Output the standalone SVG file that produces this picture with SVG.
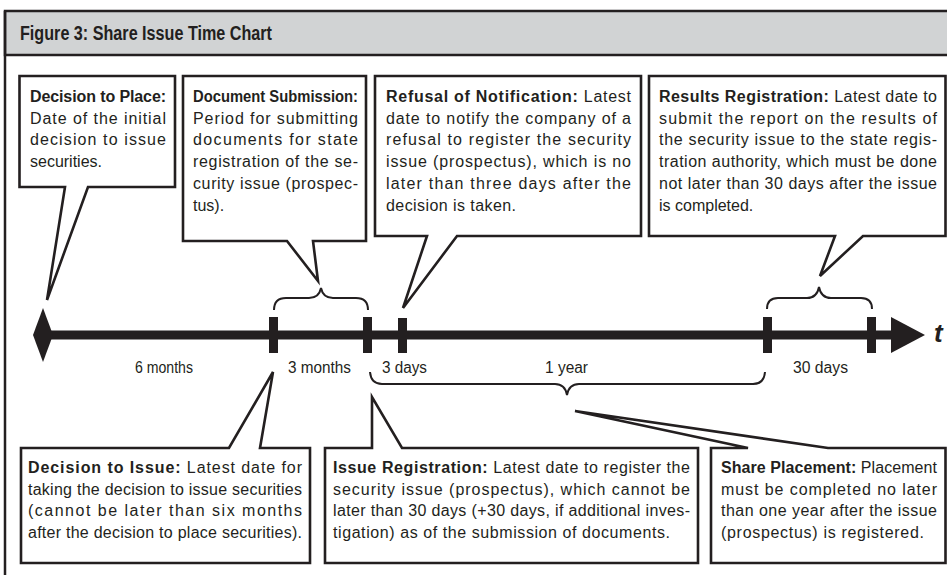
<svg xmlns="http://www.w3.org/2000/svg" width="947" height="575" viewBox="0 0 947 575">
<style>
.box{fill:#fff;stroke:#231f20;stroke-width:2.6;stroke-linejoin:miter}
.t{font-family:"Liberation Sans",Arial,sans-serif;font-size:16px;fill:#231f20}
.b{font-weight:bold}
.lbl{font-family:"Liberation Sans",Arial,sans-serif;font-size:16px;fill:#231f20}
.brace{fill:none;stroke:#231f20;stroke-width:2}
.tick{fill:#231f20}
</style>
<rect width="947" height="575" fill="#fff"/>
<g id="frame">
<rect x="5" y="11" width="950" height="44" fill="#d1d3d4" stroke="#231f20" stroke-width="2.5"/>
<line x1="5" y1="11" x2="5" y2="575" stroke="#231f20" stroke-width="2.5"/>
<text x="20" y="40" class="t b" style="font-size:20px" textLength="252" lengthAdjust="spacingAndGlyphs">Figure 3: Share Issue Time Chart</text>
</g>

<g id="connectors">
<line x1="48" y1="335" x2="895" y2="335" stroke="#231f20" stroke-width="9"/>
<path d="M43,308 L53,335 L43,362 L33,335 Z" fill="#231f20"/>
<path d="M891,317 L925,335 L891,353 Z" fill="#231f20"/>
<rect class="tick" x="269" y="317" width="9" height="36"/>
<rect class="tick" x="363" y="317" width="9" height="36"/>
<rect class="tick" x="398" y="318" width="9" height="35"/>
<rect class="tick" x="763" y="317" width="9" height="36"/>
<rect class="tick" x="867" y="317" width="9" height="36"/>
<text x="934" y="342" style="font-family:'Liberation Sans',Arial,sans-serif;font-size:26px;font-weight:bold;font-style:italic;fill:#231f20">t</text>
<path class="brace" d="M274,310 Q274,298 286,298 H309 Q319,298 321,288 Q323,298 333,298 H356 Q368,298 368,310"/>
<path class="brace" d="M767,309 Q767,298 778,298 H807 Q817,298 819,287 Q821,298 831,298 H861 Q872,298 872,309"/>
<path class="brace" d="M370,372 Q371,384 382,384 H555 Q565,384 567,395 Q569,384 579,384 H753 Q764,384 765,372"/>
<text class="lbl" x="135" y="373" textLength="58" lengthAdjust="spacingAndGlyphs">6 months</text>
<text class="lbl" x="288" y="373" textLength="63" lengthAdjust="spacingAndGlyphs">3 months</text>
<text class="lbl" x="382" y="373" textLength="45" lengthAdjust="spacingAndGlyphs">3 days</text>
<text class="lbl" x="545" y="373" textLength="43" lengthAdjust="spacingAndGlyphs">1 year</text>
<text class="lbl" x="793" y="373" textLength="55" lengthAdjust="spacingAndGlyphs">30 days</text>
</g>

<g id="decision-to-place">
<path class="box" d="M19.5,76 H175 V187 H88 L47,300 L65,187 H19.5 Z"/>
<text class="t" x="30" y="102" textLength="136" lengthAdjust="spacing"><tspan class="b">Decision to Place:</tspan></text>
<text class="t" x="30" y="123.7" textLength="136" lengthAdjust="spacing">Date of the initial</text>
<text class="t" x="30" y="145.4" textLength="136" lengthAdjust="spacing">decision to issue</text>
<text class="t" x="30" y="167.1" textLength="72" lengthAdjust="spacing">securities.</text>
</g>

<g id="document-submission">
<path class="box" d="M183,76 H366 V241 H313 L318,281 L287,241 H183 Z"/>
<text class="t" x="193" y="102" textLength="165" lengthAdjust="spacingAndGlyphs"><tspan class="b">Document Submission:</tspan></text>
<text class="t" x="193" y="123.7" textLength="165" lengthAdjust="spacing">Period for submitting</text>
<text class="t" x="193" y="145.4" textLength="165" lengthAdjust="spacing">documents for state</text>
<text class="t" x="193" y="167.1" textLength="165" lengthAdjust="spacing">registration of the se-</text>
<text class="t" x="193" y="188.8" textLength="165" lengthAdjust="spacing">curity issue (prospec-</text>
<text class="t" x="193" y="210.5">tus).</text>
</g>

<g id="refusal-of-notification">
<path class="box" d="M375,76 H641 V236 H457 L403,308 L427,236 H375 Z"/>
<text class="t" x="386" y="102" textLength="245" lengthAdjust="spacing"><tspan class="b">Refusal of Notification:</tspan> Latest</text>
<text class="t" x="386" y="123.7" textLength="245" lengthAdjust="spacing">date to notify the company of a</text>
<text class="t" x="386" y="145.4" textLength="245" lengthAdjust="spacing">refusal to register the security</text>
<text class="t" x="386" y="167.1" textLength="245" lengthAdjust="spacing">issue (prospectus), which is no</text>
<text class="t" x="386" y="188.8" textLength="245" lengthAdjust="spacing">later than three days after the</text>
<text class="t" x="386" y="210.5" textLength="130" lengthAdjust="spacing">decision is taken.</text>
</g>

<g id="results-registration">
<path class="box" d="M649,76 H945.5 V236 H863 L820,276 L835,236 H649 Z"/>
<text class="t" x="659" y="102" textLength="278" lengthAdjust="spacing"><tspan class="b">Results Registration:</tspan> Latest date to</text>
<text class="t" x="659" y="123.7" textLength="278" lengthAdjust="spacing">submit the report on the results of</text>
<text class="t" x="659" y="145.4" textLength="278" lengthAdjust="spacing">the security issue to the state regis-</text>
<text class="t" x="659" y="167.1" textLength="278" lengthAdjust="spacing">tration authority, which must be done</text>
<text class="t" x="659" y="188.8" textLength="278" lengthAdjust="spacing">not later than 30 days after the issue</text>
<text class="t" x="659" y="210.5">is completed.</text>
</g>

<g id="decision-to-issue">
<path class="box" d="M21,448 H229 L273,372 L260,448 H310 V563 H21 Z"/>
<text class="t" x="28" y="473" textLength="274" lengthAdjust="spacing"><tspan class="b">Decision to Issue:</tspan> Latest date for</text>
<text class="t" x="28" y="494.7" textLength="274" lengthAdjust="spacing">taking the decision to issue securities</text>
<text class="t" x="28" y="516.4" textLength="274" lengthAdjust="spacing">(cannot be later than six months</text>
<text class="t" x="28" y="538.1" textLength="274" lengthAdjust="spacing">after the decision to place securities).</text>
</g>

<g id="issue-registration">
<path class="box" d="M325,448 H372 V397 L402,448 H698 V563 H325 Z"/>
<text class="t" x="333" y="473" textLength="357" lengthAdjust="spacing"><tspan class="b">Issue Registration:</tspan> Latest date to register the</text>
<text class="t" x="333" y="494.7" textLength="357" lengthAdjust="spacing">security issue (prospectus), which cannot be</text>
<text class="t" x="333" y="516.4" textLength="357" lengthAdjust="spacing">later than 30 days (+30 days, if additional inves-</text>
<text class="t" x="333" y="538.1" textLength="337" lengthAdjust="spacing">tigation) as of the submission of documents.</text>
</g>

<g id="share-placement">
<path class="box" d="M711,448 H748 L575,411 L828,448 H945.5 V563 H711 Z"/>
<text class="t" x="721" y="473" textLength="216" lengthAdjust="spacing"><tspan class="b">Share Placement:</tspan> Placement</text>
<text class="t" x="721" y="494.7" textLength="216" lengthAdjust="spacing">must be completed no later</text>
<text class="t" x="721" y="516.4" textLength="216" lengthAdjust="spacing">than one year after the issue</text>
<text class="t" x="721" y="538.1" textLength="203" lengthAdjust="spacing">(prospectus) is registered.</text>
</g>
</svg>
